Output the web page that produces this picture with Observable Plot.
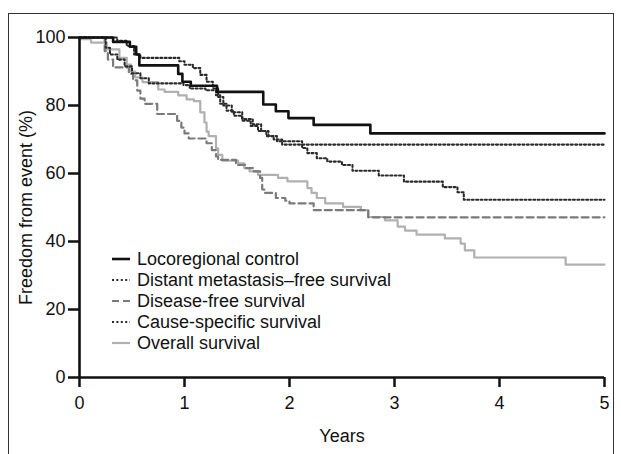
<!DOCTYPE html>
<html><head><meta charset="utf-8">
<script src="https://cdn.jsdelivr.net/npm/d3@7"></script>
<script src="https://cdn.jsdelivr.net/npm/@observablehq/plot@0.6"></script>
<style>
body{margin:0;background:#fff;font-family:"Liberation Sans",Arial,sans-serif;}
#wrap{position:relative;width:621px;height:454px;overflow:hidden;}
#frame{position:absolute;left:8px;top:13px;width:604px;height:470px;border:1px solid #333;}
#chart{position:absolute;left:0;top:0;}
#legend{position:absolute;left:112px;top:249px;font-size:18px;color:#111;line-height:1;}
.item{height:20.8px;display:flex;align-items:center;}
.item svg{margin-right:7px;}
</style></head>
<body>
<div id="wrap"><div id="frame"></div><div id="chart"></div><div id="legend"></div></div>
<script>
const seriesNames = ["Locoregional control","Distant metastasis–free survival","Disease-free survival","Cause-specific survival","Overall survival"];
const xTicks = [0,1,2,3,4,5];
const yTicks = [0,20,40,60,80,100];

const lrcT = [0,0.32,0.48,0.54,0.57,0.94,0.98,1.06,1.31,1.75,1.87,1.99,2.23,2.77,5];
const lrcV = [100,98.7,97.3,95,91.8,89.3,87,85.8,84,80.3,78.3,76.3,74.3,71.8,71.8];

const dmfsT = [0,0.25,0.29,0.36,0.43,0.5,0.58,0.66,0.99,1.05,1.2,1.3,1.34,1.4,1.47,1.55,1.63,1.7,1.78,1.85,1.93,5];
const dmfsV = [100,97,95,93.5,91.5,89.5,88,86.5,86,85,84.5,83,80.5,78.5,77,75.5,74,72.5,71,70,68.5,68.5];

const dfsT = [0,0.24,0.27,0.32,0.47,0.51,0.55,0.58,0.62,0.74,0.93,0.97,1.0,1.04,1.21,1.26,1.3,1.32,1.49,1.58,1.66,1.72,1.74,1.76,1.87,1.96,2.0,2.23,2.75,5];
const dfsV = [100,96,93.5,91.2,89.3,87.4,84.4,82,80.5,77.5,75.5,73.5,71.8,70.3,68.9,66.9,65,64,62.5,61.6,60.6,58.7,55.3,54.3,52.8,52,51.2,49.2,47.1,47.1];

const cssT = [0,0.36,0.45,0.52,0.58,0.95,1.0,1.08,1.15,1.21,1.27,1.32,1.37,1.45,1.55,1.65,1.73,1.8,1.88,2.12,2.17,2.26,2.36,2.5,2.6,2.85,3.09,3.46,3.6,3.66,5];
const cssV = [100,99,97.5,95,94,93,92,91,89,87,85,82.5,80,78,76,74.5,72.5,71,69.5,67.5,66,64.5,63.5,62.5,60.8,59.4,57.6,56,54.5,52.3,52.3];

const osT = [0,0.11,0.26,0.38,0.45,0.49,0.53,0.6,0.75,0.81,0.94,1.02,1.09,1.15,1.19,1.21,1.23,1.3,1.32,1.36,1.51,1.57,1.62,1.7,1.89,1.98,2.17,2.21,2.26,2.34,2.51,2.68,2.75,2.91,3.03,3.1,3.21,3.48,3.63,3.67,3.76,4.63,5];
const osV = [99.5,98.5,96.5,94,92,90,88.3,86.9,84.7,84,83,81.8,81.3,78,75,72.3,71,67.4,65.5,63.8,63,61.6,60.6,59.6,58.7,57.7,55.7,54.3,52.8,51.2,50.2,49.2,47.2,46.2,44.4,43.2,42,40.9,39.4,37.4,35.3,33.2,33.2];

const styles = [
  {color:"#111", w:2.6, dash:null},
  {color:"#2a2a2a", w:2.1, dash:"2,2.4"},
  {color:"#7a7a7a", w:2.2, dash:"7,4"},
  {color:"#2a2a2a", w:2.1, dash:"2,2.4"},
  {color:"#b0b0b0", w:2.2, dash:null}
];
const times = [lrcT, dmfsT, dfsT, cssT, osT];
const vals = [lrcV, dmfsV, dfsV, cssV, osV];

const series = seriesNames.map((name,k)=>({name, rows: times[k].map((t,i)=>({t, v: vals[k][i]})), ...styles[k]}));

const chart = Plot.plot({
  width:621, height:454,
  marginLeft:79, marginRight:17, marginTop:37, marginBottom:77,
  style:{fontFamily:"'Liberation Sans', Arial, sans-serif", fontSize:"18px", color:"#111", background:"transparent", overflow:"visible"},
  x:{domain:[0,5]},
  y:{domain:[0,100]},
  marks:[
    ...series.slice().reverse().map(s => Plot.line(s.rows, {x:"t", y:"v", curve:"step-after", stroke:s.color, strokeWidth:s.w, strokeDasharray:s.dash})),
    Plot.ruleX([0], {y1:0, y2:100, stroke:"#111", strokeWidth:2.6}),
    Plot.ruleY([0], {x1:0, x2:5, stroke:"#111", strokeWidth:2.6}),
    Plot.axisX(xTicks, {tickSize:10, tickPadding:9, strokeWidth:2.5, label:"Years", labelAnchor:"center", labelOffset:64, labelArrow:"none", fontSize:18}),
    Plot.axisY(yTicks, {tickSize:11, tickPadding:3, strokeWidth:2.5, label:"Freedom from event (%)", labelAnchor:"center", labelOffset:60, labelArrow:"none", fontSize:18})
  ]
});
document.getElementById("chart").appendChild(chart);

const leg = document.getElementById("legend");
series.forEach(s => {
  const d = document.createElement("div");
  d.className = "item";
  d.innerHTML = `<svg width="18" height="10"><line x1="0" x2="18" y1="5" y2="5" stroke="${s.color}" stroke-width="${s.w}" ${s.dash ? `stroke-dasharray="${s.dash}"` : ""}/></svg><span>${s.name}</span>`;
  leg.appendChild(d);
});
</script>
</body></html>
